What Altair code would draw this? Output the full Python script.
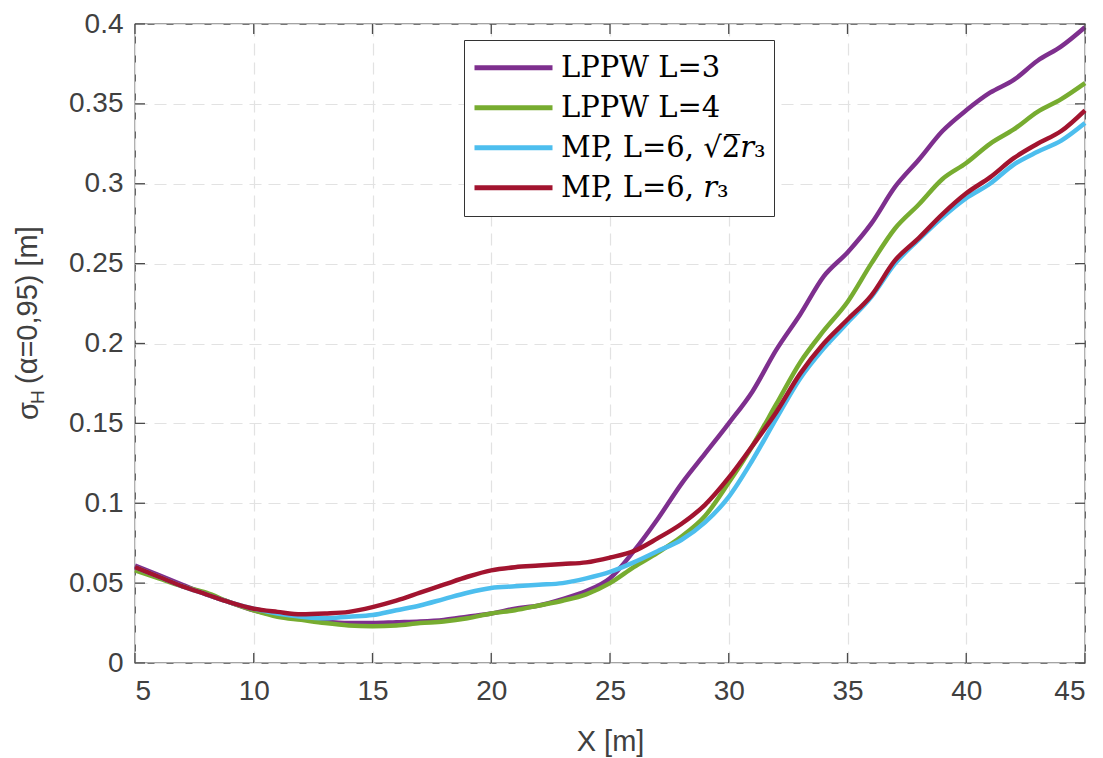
import altair as alt
import pandas as pd

# ---- data ----
x_m = list(range(5, 46))
lppw3 = [0.061, 0.055, 0.049, 0.043, 0.038, 0.033, 0.030, 0.028, 0.026, 0.025,
         0.025, 0.0255, 0.026, 0.027, 0.029, 0.031, 0.034, 0.036, 0.040, 0.045,
         0.053, 0.070, 0.090, 0.112, 0.131, 0.150, 0.170, 0.196, 0.218, 0.242,
         0.257, 0.275, 0.298, 0.315, 0.333, 0.346, 0.357, 0.365, 0.377, 0.386, 0.398]
lppw4 = [0.058, 0.053, 0.048, 0.044, 0.038, 0.033, 0.029, 0.027, 0.025, 0.0235,
         0.023, 0.0235, 0.025, 0.026, 0.028, 0.031, 0.033, 0.036, 0.039, 0.043,
         0.050, 0.060, 0.069, 0.079, 0.092, 0.113, 0.136, 0.162, 0.188, 0.208,
         0.226, 0.250, 0.272, 0.287, 0.303, 0.313, 0.325, 0.334, 0.345, 0.353, 0.363]
mp_sqrt2 = [0.060, 0.054, 0.048, 0.043, 0.038, 0.034, 0.031, 0.029, 0.028, 0.029,
            0.030, 0.033, 0.036, 0.040, 0.044, 0.047, 0.048, 0.049, 0.050, 0.053,
            0.057, 0.063, 0.070, 0.077, 0.088, 0.104, 0.127, 0.153, 0.178, 0.197,
            0.213, 0.229, 0.250, 0.265, 0.279, 0.291, 0.300, 0.312, 0.320, 0.327, 0.338]
mp_r3 = [0.060, 0.054, 0.048, 0.043, 0.038, 0.034, 0.032, 0.0305, 0.031, 0.032,
         0.035, 0.039, 0.044, 0.049, 0.054, 0.058, 0.060, 0.061, 0.062, 0.063,
         0.066, 0.070, 0.078, 0.087, 0.099, 0.116, 0.136, 0.157, 0.181, 0.200,
         0.215, 0.230, 0.252, 0.266, 0.281, 0.294, 0.304, 0.316, 0.325, 0.333, 0.346]

series_names = ["LPPW L=3", "LPPW L=4", "MP, L=6, \u221a2\u0305\U0001D45F\u2083", "MP, L=6, \U0001D45F\u2083"]
series_colors = ["#7E2F8E", "#77AC30", "#4DBEEE", "#A2142F"]
series_values = [lppw3, lppw4, mp_sqrt2, mp_r3]

x_ticks = [5, 10, 15, 20, 25, 30, 35, 40, 45]
y_ticks = [0, 0.05, 0.1, 0.15, 0.2, 0.25, 0.3, 0.35, 0.4]

rows = []
for name, vals in zip(series_names, series_values):
    for xv, yv in zip(x_m, vals):
        rows.append({"x": xv, "y": yv, "series": name})
df = pd.DataFrame(rows)

W, H = 950, 639
TXT = "#404040"
FRAME = "#4a4a4a"
FONT = "Liberation Sans"

xscale = alt.Scale(domain=[5, 45], nice=False, zero=False)
yscale = alt.Scale(domain=[0, 0.4], nice=False)

lines = alt.Chart(df).mark_line(strokeWidth=4.5, interpolate="monotone").encode(
    x=alt.X("x:Q", scale=xscale, axis=alt.Axis(
        values=x_ticks, grid=True, gridDash=[12, 7], gridColor="#e2e2e2", gridWidth=1.2,
        domain=False, ticks=False, labelFont=FONT, labelFontSize=28, labelColor=TXT,
        labelPadding=14, title="X [m]", titleFont=FONT, titleFontSize=29,
        titleFontWeight="normal", titleColor=TXT, titleY=87, titleBaseline="alphabetic")),
    y=alt.Y("y:Q", scale=yscale, axis=alt.Axis(
        values=y_ticks, format="~g", grid=True, gridDash=[12, 7], gridColor="#e2e2e2",
        gridWidth=1.2, domain=False, ticks=False, labelFont=FONT, labelFontSize=28,
        labelColor=TXT, labelPadding=12, title=None)),
    color=alt.Color("series:N", sort=series_names,
                    scale=alt.Scale(domain=series_names, range=series_colors),
                    legend=alt.Legend(
                        title=None, orient="none", legendX=329, legendY=16,
                        symbolType="stroke", symbolSize=6084, symbolStrokeWidth=5,
                        clipHeight=39.5, rowPadding=0, padding=8, labelOffset=6,
                        labelFont="DejaVu Serif", labelFontSize=29, labelColor="black",
                        labelLimit=400, strokeColor="#333333", fillColor="white")),
    order=alt.Order("x:Q"),
)

tick_x = pd.DataFrame({"v": x_ticks})
tick_y = pd.DataFrame({"v": y_ticks})
tl = 10
bottom_ticks = alt.Chart(tick_x).mark_rule(color=FRAME, strokeWidth=1.3).encode(
    x=alt.X("v:Q", scale=xscale), y=alt.value(H), y2=alt.value(H - tl))
top_ticks = alt.Chart(tick_x).mark_rule(color=FRAME, strokeWidth=1.3).encode(
    x=alt.X("v:Q", scale=xscale), y=alt.value(0), y2=alt.value(tl))
left_ticks = alt.Chart(tick_y).mark_rule(color=FRAME, strokeWidth=1.3).encode(
    y=alt.Y("v:Q", scale=yscale), x=alt.value(0), x2=alt.value(tl))
right_ticks = alt.Chart(tick_y).mark_rule(color=FRAME, strokeWidth=1.3).encode(
    y=alt.Y("v:Q", scale=yscale), x=alt.value(W), x2=alt.value(W - tl))

# y-axis title: sigma with subscript H, then the rest
t_sigma = alt.Chart(pd.DataFrame({"t": ["\u03c3"]})).mark_text(
    angle=270, align="left", baseline="alphabetic", font=FONT, fontSize=29, color=TXT
).encode(text="t:N", x=alt.value(-97), y=alt.value(396))
t_sub = alt.Chart(pd.DataFrame({"t": ["H"]})).mark_text(
    angle=270, align="left", baseline="alphabetic", font=FONT, fontSize=19, color=TXT
).encode(text="t:N", x=alt.value(-91), y=alt.value(380))
t_rest = alt.Chart(pd.DataFrame({"t": ["(\u03b1=0,95) [m]"]})).mark_text(
    angle=270, align="left", baseline="alphabetic", font=FONT, fontSize=29, color=TXT
).encode(text="t:N", x=alt.value(-98), y=alt.value(360))

chart = alt.layer(
    lines, bottom_ticks, top_ticks, left_ticks, right_ticks, t_sigma, t_sub, t_rest
).properties(
    width=W, height=H,
    autosize=alt.AutoSizeParams(type="none"),
    padding={"left": 127, "top": 16, "right": 10, "bottom": 94},
    background="white",
).configure_view(stroke=FRAME, strokeWidth=1.3)

chart.save("out.html", embed_options={"renderer": "svg", "actions": False})
